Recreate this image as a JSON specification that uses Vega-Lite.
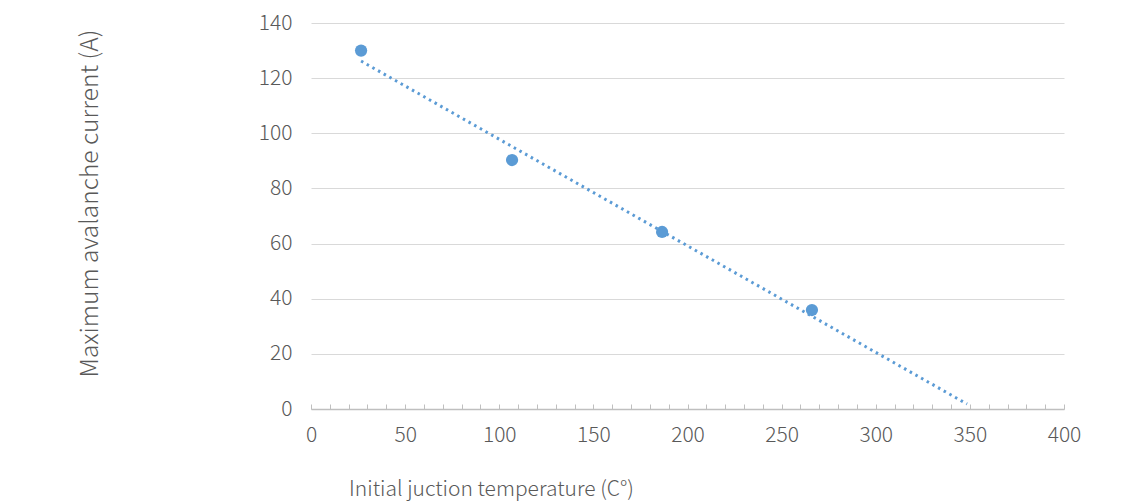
{
  "$schema": "https://vega.github.io/schema/vega-lite/v6.json",
  "autosize": {"type": "none"},
  "padding": {"left": 311, "top": 23, "right": 78, "bottom": 92},
  "width": 753,
  "height": 386,
  "background": "white",
  "config": {
    "view": {"stroke": null},
    "font": "Noto Sans CJK SC",
    "axis": {"labelFont": "Noto Sans CJK SC", "titleFont": "Noto Sans CJK SC", "labelColor": "#595959", "titleColor": "#595959", "labelFontSize": 21, "labelFontWeight": 300, "titleFontSize": 21, "titleFontWeight": 300}
  },
  "datasets": {
    "points": [
      {"temp": 26.6, "current": 130},
      {"temp": 106.8, "current": 90.3},
      {"temp": 186.5, "current": 64.2},
      {"temp": 266.1, "current": 35.9}
    ],
    "trend": [
      {"temp": 26.6, "current": 126.2},
      {"temp": 348.5, "current": 1.8}
    ]
  },
  "encoding": {
    "x": {
      "field": "temp", "type": "quantitative",
      "scale": {"domain": [0, 400], "nice": false},
      "axis": {
        "title": "Initial juction temperature (C°)",
        "values": [0,10,20,30,40,50,60,70,80,90,100,110,120,130,140,150,160,170,180,190,200,210,220,230,240,250,260,270,280,290,300,310,320,330,340,350,360,370,380,390,400],
        "labelExpr": "datum.value % 50 === 0 ? datum.label : ''",
        "labelOverlap": false,
        "labelFlush": false,
        "grid": false,
        "domainColor": "#bfbfbf",
        "domainWidth": 1.5,
        "tickColor": "#bfbfbf",
        "tickSize": -5,
        "labelPadding": 20,
        "titleAlign": "center",
        "titleX": 180,
        "titleY": 80,
        "titleBaseline": "middle"
      }
    },
    "y": {
      "field": "current", "type": "quantitative",
      "scale": {"domain": [0, 140], "nice": false},
      "axis": {
        "title": "Maximum avalanche current (A)",
        "values": [0,20,40,60,80,100,120,140],
        "domain": false,
        "ticks": false,
        "labelOverlap": false,
        "gridColor": "#d9d9d9",
        "gridWidth": 1.2,
        "labelPadding": 19,
        "titleX": -221,
        "titleY": 180,
        "titleAlign": "center",
        "titleBaseline": "middle",
        "titleAngle": -90,
        "titleFontSize": 24.5
      }
    }
  },
  "layer": [
    {
      "data": {"name": "trend"},
      "mark": {"type": "line", "color": "#5b9bd5", "strokeWidth": 3, "strokeDash": [2.5, 4], "clip": true}
    },
    {
      "data": {"name": "points"},
      "mark": {"type": "point", "filled": true, "color": "#5b9bd5", "size": 150, "opacity": 1}
    }
  ]
}
